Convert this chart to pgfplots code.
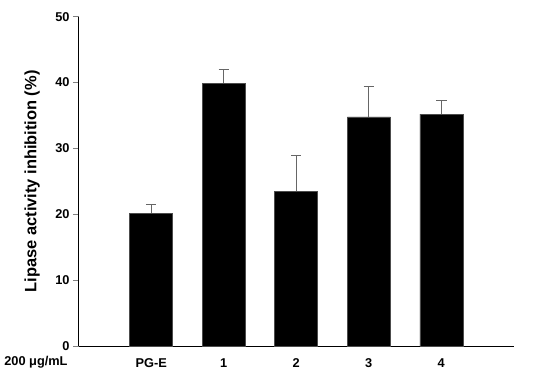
\documentclass[border=0pt]{standalone}
\usepackage{fontspec}
\setmainfont{Liberation Sans}
\usepackage{pgfplots}
\pgfplotsset{compat=1.18}
\begin{document}
\begin{tikzpicture}
\begin{axis}[
  at={(0,0)}, anchor=origin,
  scale only axis,
  width=333.75pt, height=252.75pt,
  xmin=0, xmax=6, ymin=0, ymax=50,
  axis lines=left,
  axis line style={-, line width=1pt},
  xtick={1,2,3,4,5},
  xticklabels={PG-E,1,2,3,4},
  xtick style={draw=none},
  ytick={0,10,20,30,40,50},
  ytick style={line width=0.8pt},
  tick align=outside,
  major tick length=4.5pt,
  ylabel={\bfseries Lipase activity inhibition (\%)},
  ylabel style={font=\fontsize{12.6}{14}\selectfont, yshift=5pt},
  tick label style={font=\fontsize{9.8}{12}\selectfont\bfseries},
  yticklabel style={xshift=1pt},
  xticklabel style={yshift=-1.5pt},
  /pgf/number format/assume math mode=true,
  clip=false,
]
\addplot[ybar, bar width=33pt, fill=black, draw=black!70,
  error bars/.cd, y dir=plus, y explicit,
  error bar style={gray!80!black, line width=0.8pt},
  error mark options={rotate=90, gray!80!black, mark size=4pt, line width=0.8pt}]
coordinates {
  (1,20.2) +- (0,1.3)
  (2,39.9) +- (0,2.1)
  (3,23.5) +- (0,5.5)
  (4,34.8) +- (0,4.6)
  (5,35.2) +- (0,2.1)
};
\node[font=\fontsize{9.8}{12}\selectfont\bfseries, anchor=east] at ([xshift=-5pt, yshift=-12pt]rel axis cs:0,0) {200 μg/mL};
\end{axis}
\useasboundingbox (-51pt,-21.75pt) rectangle (361.5pt,265.5pt);
\end{tikzpicture}
\end{document}
